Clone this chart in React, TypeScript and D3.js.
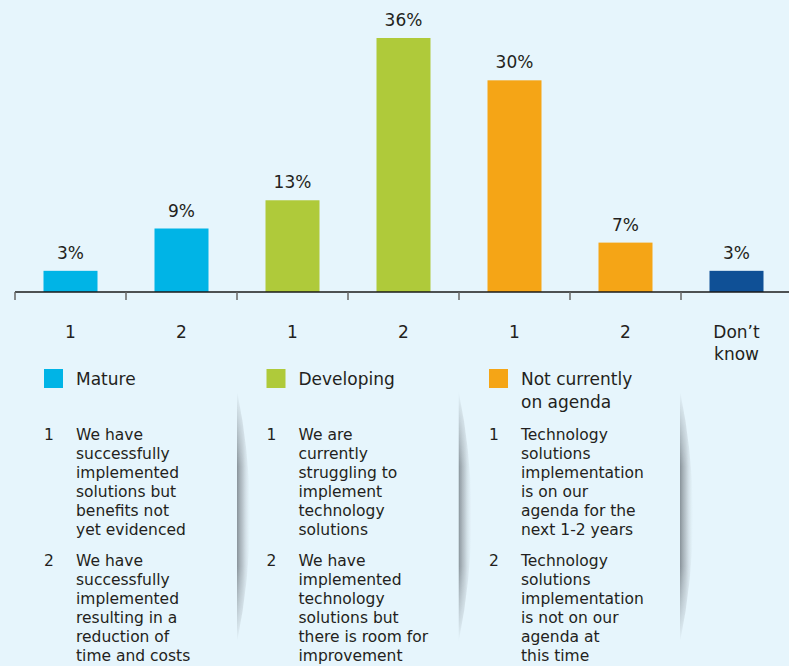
import React from "react";
import * as d3 from "d3";

const categories = ["1", "2", "1", "2", "1", "2", "Don't know"];
const values = [3, 9, 13, 36, 30, 7, 3];
const barColors = ["#00B4E6", "#00B4E6", "#AFCA3A", "#AFCA3A", "#F5A516", "#F5A516", "#0F5096"];
const tickLabelLines = [["1"], ["2"], ["1"], ["2"], ["1"], ["2"], ["Don\u2019t", "know"]];

const legendNames = [["Mature"], ["Developing"], ["Not currently", "on agenda"]];
const legendColors = ["#00B4E6", "#AFCA3A", "#F5A516"];
const descriptions = [
  [
    ["We have", "successfully", "implemented", "solutions but", "benefits not", "yet evidenced"],
    ["We have", "successfully", "implemented", "resulting in a", "reduction of", "time and costs"],
  ],
  [
    ["We are", "currently", "struggling to", "implement", "technology", "solutions"],
    ["We have", "implemented", "technology", "solutions but", "there is room for", "improvement"],
  ],
  [
    ["Technology", "solutions", "implementation", "is on our", "agenda for the", "next 1-2 years"],
    ["Technology", "solutions", "implementation", "is not on our", "agenda at", "this time"],
  ],
];

const W = 789;
const H = 666;
const FONT = "'DejaVu Sans', sans-serif";
const TEXT = "#231F20";

export default function App() {
  const idx = categories.map((_, i) => String(i));
  const x = d3.scaleBand<string>().domain(idx).range([15, 792]).paddingInner(0.5135).paddingOuter(0.5135 / 2);
  const xb = d3.scaleBand<string>().domain(idx).range([15, 792]).padding(0);
  const y = d3.scaleLinear().domain([0, 36]).range([292, 38]);
  const base = y(0);

  const colX = [44, 266.5, 489];
  const shadowX = [237, 458.5, 680];

  return (
    <svg width={W} height={H} style={{ position: "absolute", left: 0, top: 0 }} fontFamily={FONT}>
      <defs>
        <linearGradient id="shH" x1="0" x2="1" y1="0" y2="0">
          <stop offset="0" stopColor="#7d878e" stopOpacity="0.9" />
          <stop offset="0.45" stopColor="#9aa3aa" stopOpacity="0.55" />
          <stop offset="1" stopColor="#c8d3da" stopOpacity="0" />
        </linearGradient>
        <linearGradient id="shV" x1="0" x2="0" y1="0" y2="1">
          <stop offset="0" stopColor="#fff" stopOpacity="0" />
          <stop offset="0.3" stopColor="#fff" stopOpacity="1" />
          <stop offset="0.7" stopColor="#fff" stopOpacity="1" />
          <stop offset="1" stopColor="#fff" stopOpacity="0" />
        </linearGradient>
        <mask id="shMask" maskContentUnits="objectBoundingBox">
          <rect x="0" y="0" width="1" height="1" fill="url(#shV)" />
        </mask>
      </defs>
      <rect x={0} y={0} width={W} height={H} fill="#E6F5FC" />

      {/* shadows */}
      {shadowX.map((sx, i) => (
        <path
          key={"sh" + i}
          d={`M${sx},391 Q${sx + 26},516 ${sx},642 Z`}
          fill="url(#shH)"
          mask="url(#shMask)"
        />
      ))}

      {/* bars */}
      {values.map((v, i) => (
        <g key={"b" + i}>
          <rect x={x(String(i))} y={y(v)} width={x.bandwidth()} height={base - y(v)} fill={barColors[i]} />
          <text
            x={(x(String(i)) as number) + x.bandwidth() / 2}
            y={y(v) - 12}
            textAnchor="middle"
            fontSize={17}
            fill={TEXT}
          >
            {v}%
          </text>
        </g>
      ))}

      {/* axis */}
      <line x1={15} x2={789} y1={base} y2={base} stroke="#1a1a1a" strokeWidth={1.5} />
      {idx.map((k) => (
        <line key={"t" + k} x1={(xb(k) as number)} x2={(xb(k) as number)} y1={base} y2={base + 8} stroke="#666" strokeWidth={1.5} />
      ))}
      {tickLabelLines.map((lines, i) => (
        <text key={"xl" + i} x={(x(String(i)) as number) + x.bandwidth() / 2} y={338} textAnchor="middle" fontSize={17} fill={TEXT}>
          {lines.map((l, j) => (
            <tspan key={j} x={(x(String(i)) as number) + x.bandwidth() / 2} dy={j === 0 ? 0 : 22}>
              {l}
            </tspan>
          ))}
        </text>
      ))}

      {/* legend */}
      {legendNames.map((names, c) => (
        <g key={"lg" + c}>
          <rect x={colX[c]} y={369} width={19} height={19} fill={legendColors[c]} />
          <text x={colX[c] + 32} y={385} fontSize={17} fill={TEXT}>
            {names.map((n, j) => (
              <tspan key={j} x={colX[c] + 32} dy={j === 0 ? 0 : 23}>
                {n}
              </tspan>
            ))}
          </text>
          {descriptions[c].map((item, k) => (
            <g key={"d" + k}>
              <text x={colX[c]} y={k === 0 ? 440 : 566} fontSize={15.5} fill={TEXT}>
                {k + 1}
              </text>
              <text x={colX[c] + 32} y={k === 0 ? 440 : 566} fontSize={15.5} fill={TEXT}>
                {item.map((l, j) => (
                  <tspan key={j} x={colX[c] + 32} dy={j === 0 ? 0 : 19}>
                    {l}
                  </tspan>
                ))}
              </text>
            </g>
          ))}
        </g>
      ))}
    </svg>
  );
}
